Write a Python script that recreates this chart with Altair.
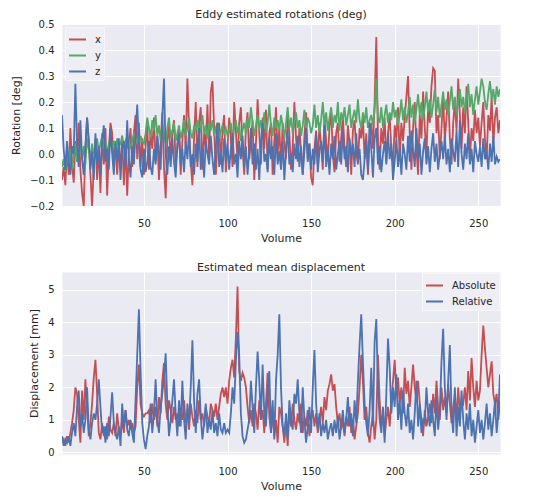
import altair as alt
import pandas as pd

# ---------------- data: top panel (rotations, deg) ----------------
rot_x = [
    -0.10, -0.05, -0.12, 0.02, -0.08, 0.10, -0.04, -0.11, 0.05, -0.02,
    0.12, -0.06, -0.15, -0.20, 0.02, 0.14, 0.05, -0.08, -0.20, -0.05,
    0.06, -0.10, 0.03, -0.15, 0.08, -0.04, 0.10, -0.16, 0.02, 0.12,
    0.08, -0.05, 0.05, -0.08, 0.03, -0.06, 0.07, -0.12, 0.04, -0.16,
    0.02, 0.10, -0.05, 0.08, 0.15, -0.02, 0.12, -0.05, 0.06, -0.08,
    0.03, 0.11, -0.06, 0.09, 0.02, 0.14, -0.03, 0.07, -0.10, 0.04,
    0.16, -0.05, -0.17, 0.05, 0.11, -0.02, 0.08, 0.13, -0.04, 0.02,
    0.10, -0.08, 0.05, 0.15, 0.02, 0.29, 0.10, -0.03, -0.12, 0.06,
    0.20, -0.05, 0.12, 0.18, -0.06, 0.08, 0.03, 0.19, -0.02, 0.24,
    0.28, 0.10, -0.08, 0.05, 0.12, -0.04, 0.09, 0.15, -0.07, 0.03,
    0.14, 0.06, -0.05, 0.20, 0.09, -0.03, 0.12, 0.18, 0.02, -0.08,
    0.10, 0.16, -0.02, 0.05, 0.13, -0.10, 0.04, 0.21, 0.08, -0.04,
    0.14, 0.02, 0.17, -0.06, 0.08, 0.12, -0.08, 0.05, 0.18, 0.00,
    0.10, -0.05, 0.12, 0.04, -0.02, 0.15, 0.08, -0.06, 0.03, 0.20,
    0.06, -0.03, 0.10, 0.01, -0.08, 0.07, 0.16, -0.02, 0.04, -0.09,
    -0.12, 0.02, 0.09, -0.04, 0.12, 0.03, -0.06, 0.14, 0.05, -0.02,
    0.10, 0.17, 0.00, -0.07, 0.08, 0.12, -0.03, 0.06, 0.15, 0.02,
    -0.05, 0.11, 0.04, -0.08, 0.09, 0.13, 0.01, -0.04, 0.10, 0.06,
    0.14, -0.02, 0.08, -0.08, 0.05, 0.12, 0.02, 0.20, 0.45, 0.06,
    -0.06, 0.10, 0.04, 0.14, -0.03, 0.08, 0.15, 0.02, -0.05, 0.11,
    0.06, 0.18, -0.02, 0.12, 0.05, 0.14, 0.22, 0.30, 0.08, -0.06,
    0.10, 0.20, 0.02, -0.08, 0.15, 0.06, 0.24, 0.10, 0.00, 0.18,
    0.12, 0.26, 0.33, 0.32, 0.08, 0.15, -0.02, 0.10, 0.22, 0.05,
    0.14, 0.24, 0.06, -0.04, 0.12, 0.20, 0.09, 0.29, 0.15, 0.02,
    0.18, 0.08, 0.26, 0.12, -0.02, 0.10, 0.05, 0.17, 0.08, 0.14,
    0.03, 0.12, 0.20, 0.06, -0.02, 0.15, 0.09, 0.22, 0.04, 0.14,
    0.18, 0.08, 0.13,
]
rot_y = [
    -0.05, -0.02, -0.07, 0.00, -0.04, 0.02, -0.06, -0.01, 0.04, -0.03,
    0.00, 0.05, -0.02, 0.03, -0.04, 0.06, 0.02, -0.01, 0.04, 0.00,
    0.03, 0.06, 0.01, 0.04, 0.07, 0.02, 0.05, 0.00, 0.04, 0.06,
    0.03, 0.05, 0.01, 0.06, 0.03, 0.04, 0.07, 0.02, 0.05, 0.03,
    0.06, 0.02, 0.05, 0.08, 0.04, 0.06, 0.03, 0.07, 0.05, 0.04,
    0.08, 0.14, 0.10, 0.06, 0.13, 0.09, 0.15, 0.07, 0.11, 0.05,
    0.12, 0.08, 0.04, 0.10, 0.14, 0.06, 0.09, 0.12, 0.05, 0.08,
    0.11, 0.06, 0.09, 0.13, 0.07, 0.10, 0.14, 0.08, 0.06, 0.11,
    0.09, 0.13, 0.07, 0.10, 0.15, 0.08, 0.11, 0.06, 0.12, 0.09,
    0.13, 0.07, 0.10, 0.12, 0.06, 0.09, 0.11, 0.08, 0.10, 0.07,
    0.09, 0.12, 0.06, 0.10, 0.13, 0.08, 0.11, 0.05, 0.09, 0.12,
    0.08, 0.14, 0.10, 0.18, 0.12, 0.07, 0.11, 0.15, 0.09, 0.13,
    0.10, 0.16, 0.08, 0.12, 0.19, 0.11, 0.07, 0.14, 0.10, 0.13,
    0.09, 0.15, 0.11, 0.06, 0.12, 0.18, 0.10, 0.14, 0.08, 0.12,
    0.16, 0.10, 0.13, 0.07, 0.11, 0.17, 0.09, 0.14, 0.12, 0.08,
    0.11, 0.19, 0.10, 0.15, 0.08, 0.13, 0.20, 0.11, 0.16, 0.09,
    0.14, 0.18, 0.10, 0.15, 0.12, 0.20, 0.09, 0.16, 0.13, 0.18,
    0.11, 0.15, 0.19, 0.10, 0.14, 0.17, 0.12, 0.21, 0.13, 0.10,
    0.16, 0.12, 0.18, 0.10, 0.13, 0.15, 0.11, 0.17, 0.29, 0.14,
    0.12, 0.18, 0.10, 0.15, 0.19, 0.12, 0.16, 0.13, 0.20, 0.14,
    0.17, 0.11, 0.15, 0.21, 0.13, 0.18, 0.12, 0.16, 0.22, 0.14,
    0.19, 0.12, 0.17, 0.23, 0.15, 0.20, 0.13, 0.18, 0.24, 0.16,
    0.21, 0.14, 0.19, 0.25, 0.16, 0.22, 0.14, 0.19, 0.24, 0.17,
    0.21, 0.15, 0.20, 0.26, 0.17, 0.22, 0.15, 0.20, 0.25, 0.18,
    0.22, 0.16, 0.21, 0.27, 0.18, 0.23, 0.15, 0.21, 0.26, 0.19,
    0.24, 0.29, 0.26, 0.20, 0.17, 0.23, 0.28, 0.21, 0.25, 0.19,
    0.26, 0.22, 0.25,
]
rot_z = [
    0.15, 0.02, -0.06, 0.05, -0.03, -0.08, 0.03, 0.00, 0.27, 0.04,
    -0.05, 0.13, -0.02, -0.08, 0.03, 0.14, 0.05, -0.06, 0.01, -0.10,
    0.08, -0.04, 0.03, -0.08, 0.05, 0.11, -0.03, 0.02, -0.06, 0.10,
    0.00, -0.08, 0.04, -0.03, 0.06, -0.10, 0.02, 0.05, -0.05, 0.13,
    -0.02, -0.09, 0.03, -0.04, 0.08, 0.19, 0.03, -0.06, -0.09, 0.02,
    -0.07, -0.03, 0.05, -0.05, -0.08, 0.02, -0.04, 0.07, 0.01, -0.06,
    0.14, 0.29, 0.00, -0.08, 0.03, -0.05, 0.06, -0.03, -0.09, 0.04,
    0.08, -0.04, 0.02, -0.07, 0.05, -0.02, 0.09, -0.05, 0.00, -0.08,
    0.04, -0.03, 0.10, -0.06, 0.02, -0.09, 0.05, 0.00, -0.04, 0.07,
    -0.02, -0.08, 0.03, 0.12, -0.05, 0.01, -0.07, 0.06, -0.03, 0.04,
    -0.06, 0.02, 0.08, -0.04, 0.00, -0.09, 0.05, -0.02, 0.07, -0.05,
    0.03, -0.08, 0.01, 0.10, -0.04, 0.04, -0.06, 0.02, -0.10, 0.05,
    0.12, -0.03, 0.00, -0.07, 0.06, -0.02, 0.03, -0.08, 0.08, -0.04,
    0.01, -0.06, 0.05, -0.10, 0.02, 0.09, -0.04, 0.00, -0.07, 0.04,
    -0.02, 0.07, -0.05, 0.03, -0.08, 0.01, 0.10, -0.03, 0.04, -0.06,
    0.02, -0.04, 0.08, -0.07, 0.01, 0.05, -0.03, 0.11, -0.05, 0.02,
    -0.08, 0.04, -0.02, 0.07, -0.06, 0.00, 0.05, -0.04, 0.09, -0.02,
    0.03, -0.07, 0.06, -0.01, 0.04, -0.05, 0.08, -0.03, 0.02, -0.08,
    -0.10, -0.02, 0.05, -0.06, 0.12, 0.02, -0.09, 0.06, 0.10, -0.04,
    0.03, -0.07, 0.00, 0.05, -0.04, 0.08, -0.02, 0.04, -0.10, -0.03,
    0.06, -0.05, 0.02, -0.08, 0.04, 0.00, -0.06, 0.07, -0.03, 0.09,
    0.02, -0.05, 0.10, -0.02, 0.04, -0.08, 0.01, 0.06, -0.04, 0.03,
    -0.07, 0.02, 0.08, -0.03, 0.04, -0.06, 0.00, 0.05, -0.02, 0.07,
    -0.04, 0.02, -0.07, 0.06, 0.01, -0.03, 0.09, -0.05, 0.13, 0.00,
    -0.06, 0.04, -0.02, 0.08, -0.04, 0.02, -0.07, 0.05, 0.00, -0.03,
    0.03, -0.05, 0.06, -0.02, 0.01, -0.06, 0.04, -0.03, 0.07, -0.04,
    -0.01, -0.03, -0.02,
]

# ---------------- data: bottom panel (displacement, mm) ----------------
disp_abs = [
    0.3, 0.4, 0.2, 0.5, 0.3, 0.6, 0.9, 1.3, 2.0, 1.8,
    1.0, 0.3, 1.9, 1.0, 2.25, 1.4, 0.5, 0.9, 1.5, 2.3,
    2.85, 1.8, 0.6, 0.4, 0.9, 0.5, 0.8, 0.4, 1.1, 0.7,
    0.6, 0.9, 0.5, 1.2, 0.7, 0.5, 1.0, 0.6, 1.3, 0.8,
    1.0, 0.7, 0.9, 0.6, 0.8, 2.0, 2.7, 1.5, 1.2, 1.1,
    1.2, 1.2, 1.3, 0.9, 1.5, 1.0, 1.4, 0.8, 1.7, 1.2,
    2.2, 2.75, 1.5, 1.0, 1.6, 1.3, 0.9, 1.4, 1.0, 1.2,
    0.8, 1.3, 1.0, 1.6, 0.9, 1.2, 0.7, 1.5, 1.1, 0.8,
    1.3, 0.9, 1.6, 1.0, 1.2, 0.8, 1.4, 1.1, 0.9, 1.5,
    1.3, 1.1, 1.5, 1.0, 1.4, 1.8, 2.0, 1.7, 2.0, 1.5,
    2.2, 2.6, 2.85, 2.3, 3.5, 5.1, 2.5, 2.2, 2.45, 2.3,
    2.0, 1.4, 0.9, 1.3, 0.8, 1.5, 1.2, 0.7, 1.6, 1.0,
    1.3, 0.6, 1.5, 2.45, 1.1, 0.6, 1.2, 0.5, 1.0, 0.3,
    1.4, 1.2, 0.8, 0.3, 1.0, 0.2, 1.3, 0.8, 1.5, 1.0,
    0.7, 1.2, 0.9, 1.5, 0.6, 1.1, 0.8, 1.3, 0.5, 1.0,
    1.3, 0.8, 1.2, 0.6, 1.0, 1.4, 0.9, 1.7, 1.3, 1.9,
    2.1, 2.4, 1.9, 2.1, 1.4, 0.9, 1.2, 0.7, 1.0, 0.5,
    1.1, 0.8, 1.4, 0.6, 1.0, 0.4, 0.8, 1.2, 2.0, 3.0,
    2.2, 1.0, 1.4, 0.6, 0.3, 0.8, 1.2, 0.4, 1.0, 3.0,
    1.6, 0.8, 1.2, 0.5, 1.0, 1.4, 0.8, 1.6, 2.2, 2.85,
    1.8, 2.3, 1.5, 2.0, 1.2, 2.6, 1.8, 2.2, 1.4, 2.0,
    2.7, 2.0, 1.6, 2.2, 1.5, 1.0, 0.5, 1.3, 0.8, 1.1,
    1.5, 0.9, 1.8, 1.2, 2.2, 1.4, 1.0, 2.0, 1.3, 1.7,
    1.2, 2.1, 1.5, 0.9, 1.4, 1.8, 1.0, 2.0, 1.2, 1.6,
    1.5, 2.0, 1.3, 2.5, 1.6, 2.9, 2.0, 1.4, 2.2, 1.6,
    1.9, 3.0, 3.9, 3.2, 2.6, 2.0, 2.4, 2.8, 1.8, 1.5,
    1.8, 1.0, 1.6,
]
disp_rel = [
    0.5, 0.2, 0.4, 0.3, 0.5, 0.2, 0.6, 0.9, 0.5, 1.4,
    1.9, 0.8, 1.2, 0.6, 1.0, 2.0, 0.7, 0.4, 0.9, 1.2,
    1.0, 1.5, 2.25, 1.4, 0.6, 0.8, 0.3, 0.9, 0.5, 1.1,
    1.85, 0.9, 0.6, 0.4, 0.8, 0.2, 1.5, 0.8, 1.3, 0.7,
    0.5, 1.0, 0.6, 0.3, 1.6, 3.0, 4.4, 2.5, 0.9, 0.4,
    0.1, 0.5, 0.8, 1.5, 0.6, 1.2, 2.25, 1.0, 0.6, 1.4,
    1.8, 2.3, 3.05, 1.5, 0.5, 1.0, 1.6, 2.25, 1.2, 0.5,
    1.6, 0.8, 2.2, 1.0, 0.4, 1.5, 0.9, 2.0, 3.45, 1.6,
    0.6, 1.8, 2.25, 1.1, 0.4, 0.9, 1.5, 0.6, 1.0, 0.7,
    1.3, 0.6, 0.9, 0.5, 1.2, 0.7, 0.6, 0.9, 0.6, 0.7,
    0.6, 1.2, 2.0, 1.5, 2.8, 3.7, 3.0, 1.2, 0.5, 0.3,
    0.4, 0.7, 1.0, 2.2, 1.4, 0.6, 2.0, 3.1, 2.2, 1.0,
    2.7, 1.2, 0.8, 1.8, 2.5, 0.6, 1.6, 0.4, 2.2, 3.0,
    4.25, 2.0, 0.8, 0.5, 1.2, 0.4, 1.6, 1.0, 0.7, 1.8,
    1.5, 2.25, 1.2, 0.6, 2.0, 1.0, 0.3, 0.8, 1.4, 0.6,
    2.0, 3.15, 1.5, 0.7, 1.2, 0.5, 0.9, 0.6, 1.0, 0.4,
    0.7, 0.9, 0.5, 1.0, 0.6, 1.1, 0.4, 0.8, 1.3, 0.6,
    1.0, 1.7, 0.8, 1.2, 0.5, 1.6, 0.9, 2.2, 3.3, 4.25,
    2.8, 1.5, 0.9, 0.5, 1.3, 2.6, 0.8, 3.4, 4.1, 2.0,
    1.0, 0.6, 1.4, 0.3, 1.8, 3.5, 2.6, 1.2, 2.0, 1.4,
    2.4, 1.0, 1.6, 0.7, 1.9, 1.2, 0.8, 1.5, 0.6, 1.0,
    0.4, 1.2, 2.2, 0.8, 1.5, 0.6, 1.0, 0.9, 2.0, 1.2,
    0.8, 1.6, 1.0, 0.5, 1.7, 0.7, 1.3, 2.8, 3.8, 2.0,
    1.0, 2.2, 3.3, 1.2, 0.6, 2.0, 0.5, 1.4, 0.8, 1.9,
    1.0, 0.4, 1.2, 0.7, 1.5, 0.5, 1.0, 0.3, 0.8, 1.3,
    0.6, 1.0, 0.4, 0.9, 1.5, 0.7, 1.2, 0.5, 1.0, 1.6,
    0.6, 1.2, 2.4,
]

rot_names = ["x", "y", "z"]
disp_names = ["Absolute", "Relative"]
x_ticks = [50, 100, 150, 200, 250]
rot_ticks = [-0.2, -0.1, 0.0, 0.1, 0.2, 0.3, 0.4, 0.5]
disp_ticks = [0, 1, 2, 3, 4, 5]

RED, GREEN, BLUE = "#C44E52", "#55A868", "#4C72B0"
FONT = "DejaVu Sans"
TXT = "#262626"

rows = []
for name, series in zip(rot_names, [rot_x, rot_y, rot_z]):
    for i, v in enumerate(series):
        rows.append({"Volume": i + 1, "value": v, "axis": name})
rot_df = pd.DataFrame(rows)

rows = []
for name, series in zip(disp_names, [disp_abs, disp_rel]):
    for i, v in enumerate(series):
        rows.append({"Volume": i + 1, "value": v, "kind": name})
disp_df = pd.DataFrame(rows)

n = len(rot_x)
xscale = alt.Scale(domain=[1, n], nice=False, zero=False)

def x_enc():
    return alt.X("Volume:Q", scale=xscale,
                 axis=alt.Axis(values=x_ticks, title="Volume", format="d",
                               labelPadding=12, titlePadding=4))

def legend(orient, offset):
    return alt.Legend(title=None, orient=orient, offset=offset,
                      symbolType="stroke", symbolSize=289, symbolStrokeWidth=2,
                      labelFontSize=10, labelColor=TXT, labelFont=FONT,
                      fillColor="#EEEEF4", strokeColor="#F7F7FA",
                      padding=3, rowPadding=1, labelOffset=8)

top = alt.Chart(rot_df, title=alt.Title("Eddy estimated rotations (deg)")).mark_line(
    strokeWidth=1.8, clip=True
).encode(
    x=x_enc(),
    y=alt.Y("value:Q", scale=alt.Scale(domain=[-0.2, 0.5], nice=False),
            axis=alt.Axis(values=rot_ticks, format=".1f", title="Rotation [deg]")),
    color=alt.Color("axis:N", scale=alt.Scale(domain=rot_names, range=[RED, GREEN, BLUE]),
                    legend=legend("top-left", 3)),
).properties(width=438, height=182)

bottom = alt.Chart(disp_df, title=alt.Title("Estimated mean displacement")).mark_line(
    strokeWidth=1.8, clip=True
).encode(
    x=x_enc(),
    y=alt.Y("value:Q", scale=alt.Scale(domain=[-0.05, 5.55], nice=False),
            axis=alt.Axis(values=disp_ticks, format="d", title="Displacement [mm]")),
    color=alt.Color("kind:N", scale=alt.Scale(domain=disp_names, range=[RED, BLUE]),
                    legend=legend("top-right", 1)),
).properties(width=438, height=182)

chart = alt.vconcat(top, bottom, spacing=17).resolve_scale(
    color="independent"
).resolve_legend(
    color="independent"
).properties(
    padding={"left": 2, "top": 0, "right": 5, "bottom": 5}
).configure_view(
    fill="#EAEAF2", stroke="transparent"
).configure_axis(
    grid=True, gridColor="white", gridWidth=1, domain=False, ticks=False,
    labelFont=FONT, labelFontSize=10, labelColor=TXT, labelPadding=8,
    titleFont=FONT, titleFontSize=11, titleColor=TXT, titleFontWeight="normal",
    titlePadding=8,
).configure_title(
    font=FONT, fontSize=11, color=TXT, fontWeight="normal", anchor="middle", offset=-1
).configure_legend(
    labelFont=FONT
)

chart.save("out.html", embed_options={"renderer": "svg", "actions": False})
